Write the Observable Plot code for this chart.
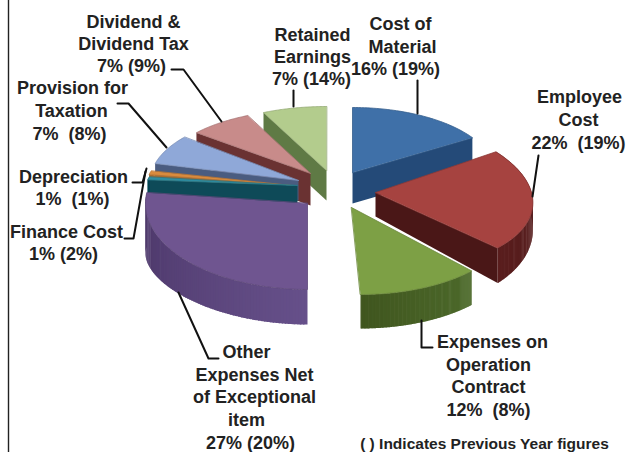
<!DOCTYPE html>
<html><head><meta charset="utf-8">
<style>html,body{margin:0;padding:0;background:#fff}svg{display:block}</style>
<script src="https://cdn.jsdelivr.net/npm/d3@7"></script>
<script src="https://cdn.jsdelivr.net/npm/@observablehq/plot@0.6"></script>
</head><body><script>
// Data, in pie order clockwise from twelve o'clock
const categories = ["Cost of Material","Employee Cost","Expenses on Operation Contract","Other Expenses Net of Exceptional item","Finance Cost","Depreciation","Provision for Taxation","Dividend & Dividend Tax","Retained Earnings"];
const currentYear = [16,22,12,27,1,1,7,7,7];
const previousYear = [19,19,8,20,2,1,8,9,14];

// Exploded, perspective-tilted geometry per slice (same order)
const apexX = [352,375,351,307,297,291,298,310,326];
const apexY = [172,192,207,203,185,185,180,173,170];
const radX  = [142,156,166,162,151,145,148,148,148];
const radY  = [65,76,87,86,45,58,68,64,64];
const shear = [0,21,9,0,0,0,0,0,0];
const depth = [31,24,34,35,20,8,20,32,30];
const rimDepth = [31,35,34,50,20,8,20,32,30];
const topCol = ["#3f70a8","#a64340","#7da045","#6f5590","#2f8ea2","#d98b3e","#8fa8d8","#c88b8a","#b3cc8d"];
const sideA  = ["#244a78","#4a1717","#4d6a2b","#66508a","#0e4a58","#a86a2c","#4a5c80","#6a3232","#5f7a45"];
const sideB  = ["#2a5484","#5a1e1e","#40561f","#4a3566","#0e4a58","#a86a2c","#4a5c80","#6a3232","#5f7a45"];

const total = d3.sum(currentYear);
let acc = 0;
const slices = currentYear.map((v,i)=>{const a0=acc/total*2*Math.PI; acc+=v; return {i,a0,a1:acc/total*2*Math.PI};});
function pt(i,a,r=1){return [apexX[i]+r*(radX[i]*Math.sin(a)-shear[i]*Math.cos(a)), apexY[i]-r*radY[i]*Math.cos(a)];}
function dp(i,a){ // depth along rim
  if(rimDepth[i]===depth[i]) return depth[i];
  if(i===1) return 25-14*Math.cos(a);
  if(i===3) return 35+15*Math.pow(Math.max(0,(a-Math.PI)/(Math.PI/2)),3);
  return depth[i];
}
const marks=[];
const poly=(pts,fill,stroke="none",sw=0.8)=>marks.push(Plot.line(pts,{x:d=>d[0],y:d=>d[1],fill,stroke,strokeWidth:sw,curve:"linear-closed"}));
const arcAngles=(a,b,n=48)=>d3.range(n+1).map(k=>a+(b-a)*k/n);
function radialFace(s,a){const i=s.i,p=pt(i,a),c=[apexX[i],apexY[i]],d=dp(i,a);
  poly([c,p,[p[0],p[1]+d],[c[0],c[1]+depth[i]]],sideA[i]);}
function rimSide(s,a,b){const i=s.i,col=d3.interpolateRgb(sideA[i],sideB[i]),N=90;
  for(let k=0;k<N;k++){const t0=a+(b-a)*k/N,t1=Math.min(b,a+(b-a)*(k+1.5)/N),p=arcAngles(t0,t1,2).map(t=>pt(i,t));
    const q=arcAngles(t1,t0,2).map(t=>{const u=pt(i,t);return [u[0],u[1]+dp(i,t)]});
    poly(p.concat(q),col(k/(N-1)));}
}
function topFace(s){const i=s.i,p=arcAngles(s.a0,s.a1).map(t=>pt(i,t));
  poly([[apexX[i],apexY[i]],...p],topCol[i],d3.color(topCol[i]).darker(0.5).formatHex());}
const order=[8,7,6,5,4,3,0,1,2];
for(const i of order){const s=slices[i];
  if(i>=3) radialFace(s,s.a0);
  if(i===0) radialFace(s,s.a1);
  if(i===1){ radialFace(s,s.a1); rimSide(s,s.a0,s.a1); }
  if(i===2) rimSide(s,s.a0,s.a1);
  if(i===3) rimSide(s,s.a0,s.a1);
  if(i===4) rimSide(s,s.a0,s.a1);
  topFace(s);
}

// Leader lines
const leaders=[
 [[171,69],[183,69],[221,121]],
 [[117,103],[128,103],[166,147]],
 [[293,90],[293,106]],
 [[417,80],[417,113]],
 [[538,155],[532,196]],
 [[132,182],[142,182],[146,168]],
 [[124,238],[133,238],[145,171]],
 [[218,358],[208,358],[178,292]],
 [[432,347],[421,347],[421,320]]
];
for(const l of leaders) marks.push(Plot.line(l,{x:d=>d[0],y:d=>d[1],stroke:"#111",strokeWidth:2,curve:"linear"}));

// Left rule
marks.push(Plot.ruleX([8],{stroke:"#222",strokeWidth:1.4}));

// Labels
const pct=(i,g=" ")=>`${currentYear[i]}%${g}(${previousYear[i]}%)`;
const labels=[
 ["Dividend &",133,22],["Dividend Tax",133,44],[pct(7),131,66],
 ["Retained",312,35],["Earnings",312,57],[pct(8),311,79],
 ["Cost of",400,24],["Material",402,47],[pct(0),395,69],
 ["Employee",579,97],["Cost",578,120],[pct(1,"  "),578,143],
 ["Provision for",72,88],["Taxation",71,111],[pct(6,"  "),69,134],
 ["Depreciation",73,177],[pct(5,"  "),72,199],
 ["Finance Cost",66,232],[pct(4),63,254],
 ["Other",246,352],["Expenses Net",254,375],["of Exceptional",254,397],["item",246,420],[pct(3),250,443],
 ["Expenses on",492,342],["Operation",488,365],["Contract",488,387],[pct(2,"  "),488,410]
];
marks.push(Plot.text(labels,{x:d=>d[1],y:d=>d[2],text:d=>d[0],fontFamily:"Liberation Sans",fontWeight:700,fontSize:18,fill:"#222",textAnchor:"middle",lineAnchor:"middle"}));
marks.push(Plot.text(["( ) Indicates Previous Year figures"],{x:()=>484,y:()=>444,text:d=>d,fontFamily:"Liberation Sans",fontWeight:700,fontSize:15.5,fill:"#222",textAnchor:"middle",lineAnchor:"middle"}));

document.body.append(Plot.plot({width:627,height:452,margin:0,
  x:{domain:[0,627],range:[0,627],axis:null},y:{domain:[0,452],range:[0,452],axis:null},marks}));
</script></body></html>
